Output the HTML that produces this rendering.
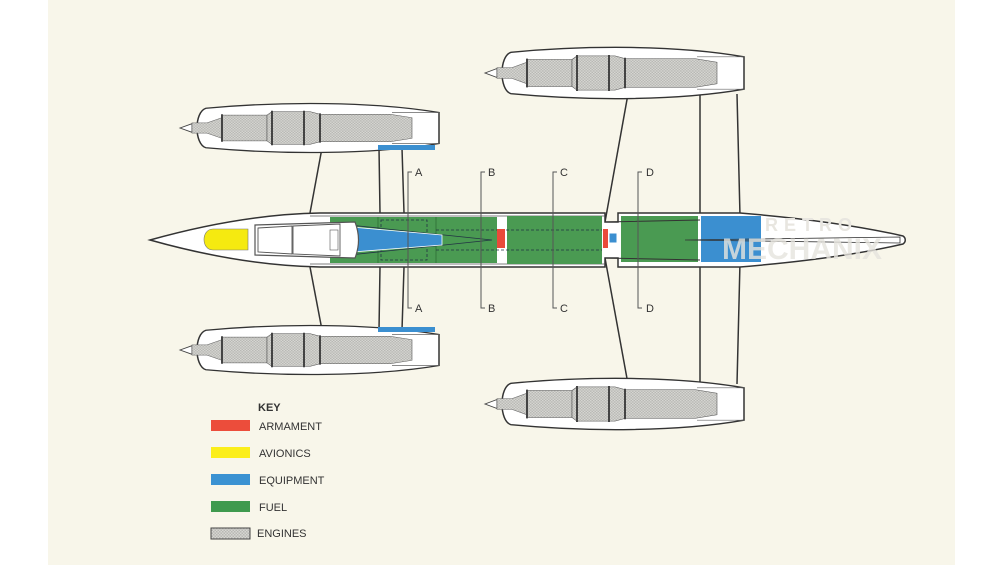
<!DOCTYPE html>
<html><head><meta charset="utf-8"><style>
html,body{margin:0;padding:0;background:#fff;}
svg{display:block;}
text{font-family:"Liberation Sans",sans-serif;fill:#333;}
</style></head><body>
<svg width="1005" height="565" viewBox="0 0 1005 565" xmlns="http://www.w3.org/2000/svg">
<defs>
<pattern id="chk" width="3" height="3" patternUnits="userSpaceOnUse">
<rect width="3" height="3" fill="#d6d6d2"/><rect width="1.5" height="1.5" fill="#b8b8b4"/><rect x="1.5" y="1.5" width="1.5" height="1.5" fill="#b8b8b4"/>
</pattern>
<g id="nac">
<path d="M-12,0 L0,-5 L0,5 Z" fill="#fff" stroke="#444" stroke-width="1"/>
<path d="M14,-23 C90,-31 180,-31 247,-18 L247,18 C180,31 90,31 14,23 C2,19 2,-19 14,-23 Z" fill="#fff" stroke="#333" stroke-width="1.5"/>
<path d="M200,-18 L247,-18 M200,18 L247,18" stroke="#666" stroke-width="0.8"/>
<path d="M0,-6 L15,-6 L30,-12 L30,12 L15,6 L0,6 Z" fill="url(#chk)" stroke="#666" stroke-width="0.6"/>
<rect x="30" y="-15" width="45" height="30" fill="url(#chk)" stroke="#555" stroke-width="0.6"/>
<path d="M75,-15 L80,-19 L118,-19 L128,-16 L128,16 L118,19 L80,19 L75,15 Z" fill="url(#chk)" stroke="#555" stroke-width="0.6"/>
<path d="M128,-16 L198,-16 L220,-12 L220,12 L198,16 L128,16 Z" fill="url(#chk)" stroke="#555" stroke-width="0.6"/>
<path d="M30,-16 V16 M80,-20 V20 M112,-20 V20 M128,-17 V17" stroke="#444" stroke-width="2"/>
</g>
</defs>
<rect x="48" y="0" width="907" height="565" fill="#f8f6ea"/>

<!-- pylons -->
<g fill="none" stroke="#333" stroke-width="1.5">
<path d="M322,148 L310,213"/><path d="M379,148 L380,213 M402,148 L404,213"/>
<path d="M322,330 L310,267"/><path d="M379,330 L380,267 M402,330 L404,267"/>
<path d="M628,94 L605,222"/><path d="M700,94 L700,213 M737,94 L740,216"/>
<path d="M628,384 L605,258"/><path d="M700,384 L700,267 M737,384 L740,262"/>
</g>

<!-- nacelles -->
<g transform="translate(192,128) scale(1,0.86)"><use href="#nac"/></g>
<g transform="translate(192,350) scale(1,0.86)"><use href="#nac"/></g>
<g transform="translate(497,73) scale(1,0.9)"><use href="#nac"/></g>
<g transform="translate(497,404) scale(1,0.9)"><use href="#nac"/></g>
<rect x="378" y="145" width="57" height="5" fill="#3b8fd0"/>
<rect x="378" y="327" width="57" height="5" fill="#3b8fd0"/>

<!-- fuselage -->
<path d="M150,240 C200,226 260,214 320,213 L605,213 L605,222 L618,222 L618,213 L740,213 C800,218 860,226 903,236 C906,238 906,242 903,244 C860,254 800,262 740,267 L618,267 L618,258 L605,258 L605,267 L320,267 C260,266 200,254 150,240 Z" fill="#fff" stroke="#333" stroke-width="1.5"/>
<path d="M310,216 L605,216 M310,264 L605,264" stroke="#555" stroke-width="0.8"/>
<rect x="330" y="217" width="167" height="46" fill="#4a9a52"/>
<rect x="507" y="216" width="95" height="48" fill="#4a9a52"/>
<rect x="621" y="216" width="77" height="46" fill="#4a9a52"/>
<rect x="701" y="216" width="60" height="46" fill="#3b8fd0"/>
<path d="M378,217 V263 M436,217 V263" stroke="#2f6e35" stroke-width="0.8"/>
<rect x="381" y="220" width="46" height="40" fill="none" stroke="#234" stroke-width="0.8" stroke-dasharray="3,2"/>
<path d="M436,230 H602 M436,250 H602" stroke="#234" stroke-width="0.8" stroke-dasharray="3,2"/>
<path d="M330,223 L492,240 L330,257" fill="none" stroke="#234" stroke-width="0.8"/>
<path d="M340,226 L442,235 L442,245 L340,253 Z" fill="#3b8fd0" stroke="#fff" stroke-width="0.8"/>
<rect x="497" y="229" width="8" height="19" fill="#e94a3a"/>
<rect x="603" y="229" width="5" height="19" fill="#e94a3a"/>
<rect x="609" y="233" width="8" height="10" fill="#3b8fd0" stroke="#fff" stroke-width="1"/>
<path d="M605,222 L700,220 M605,258 L700,260" stroke="#333" stroke-width="1"/>
<path d="M685,240 L900,237 L900,243 Z" fill="none" stroke="#333" stroke-width="0.8"/>
<path d="M213,229 L248,229 L248,250 L213,250 C201,250 201,229 213,229 Z" fill="#f5ea10" stroke="#777" stroke-width="0.6"/>
<path d="M255,225 L355,222 Q362,240 355,258 L255,255 Z" fill="#fff" stroke="#555" stroke-width="1.2"/>
<path d="M258,228 L292,226 L292,254 L258,252 Z M293,226 L340,224 L340,256 L293,254 Z" fill="none" stroke="#555" stroke-width="0.9"/>
<rect x="330" y="230" width="8" height="20" fill="#fff" stroke="#555" stroke-width="0.6"/>

<!-- watermark -->
<text x="765" y="231" font-size="18" font-weight="bold" style="fill:#e8e6e0;letter-spacing:6px">RETRO</text>
<text x="722" y="259" font-size="30" font-weight="bold" style="fill:#e6e4de;opacity:0.8">MECHANIX</text>

<!-- section lines -->
<g stroke="#555" stroke-width="1" fill="none">
<path d="M412,172 H408 V308 H412"/><path d="M485,172 H481 V308 H485"/>
<path d="M557,172 H553 V308 H557"/><path d="M642,172 H638 V308 H642"/>
</g>
<g font-size="11">
<text x="415" y="176">A</text><text x="415" y="312">A</text>
<text x="488" y="176">B</text><text x="488" y="312">B</text>
<text x="560" y="176">C</text><text x="560" y="312">C</text>
<text x="646" y="176">D</text><text x="646" y="312">D</text>
</g>

<text x="258" y="411" font-size="11" font-weight="bold">KEY</text>
<rect x="211" y="420" width="39" height="11" fill="#ec4d3b"/>
<rect x="211" y="447" width="39" height="11" fill="#fbee1a"/>
<rect x="211" y="474" width="39" height="11" fill="#3b92d2"/>
<rect x="211" y="501" width="39" height="11" fill="#3f9a4e"/>
<rect x="211" y="528" width="39" height="11" fill="url(#chk)" stroke="#444" stroke-width="1"/>
<g font-size="11">
<text x="259" y="430">ARMAMENT</text>
<text x="259" y="457">AVIONICS</text>
<text x="259" y="484">EQUIPMENT</text>
<text x="259" y="511">FUEL</text>
<text x="257" y="537">ENGINES</text>
</g>
</svg>
</body></html>
